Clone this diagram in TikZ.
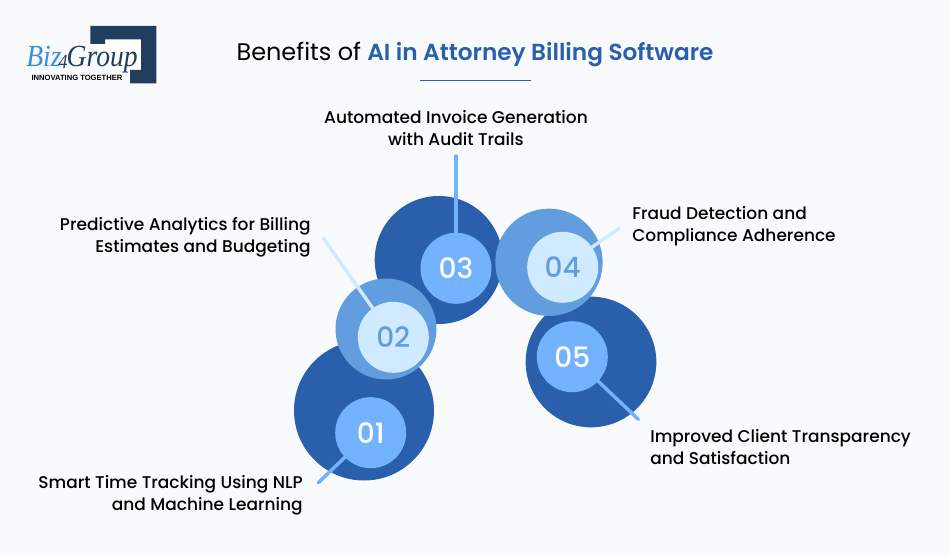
\documentclass[tikz,border=0pt]{standalone}
\usepackage{fontspec}
\setmainfont{Poppins}[UprightFont=* Medium,BoldFont=* SemiBold]
\newfontfamily\titlefont{Poppins}
\newfontfamily\logoserif[FakeStretch=0.9]{Liberation Serif}
\newfontfamily\logosans{Liberation Sans}
\usepackage{xcolor}
\usetikzlibrary{backgrounds}
\definecolor{bluedark}{HTML}{2A5FAB}
\definecolor{bluemid}{HTML}{629DDF}
\definecolor{bluelight}{HTML}{72B2FF}
\definecolor{bluepale}{HTML}{D0EAFF}
\definecolor{logonavy}{HTML}{213E5E}
\definecolor{logoblue}{HTML}{3A8FDC}
\definecolor{pagebg}{HTML}{F8FAFC}
\pgfdeclarelayer{page}
\pgfsetlayers{page,background,main}

\begin{document}
\begin{tikzpicture}[x=0.75pt,y=-0.75pt]
        \tikzstyle{big} = [draw=none,shape=circle,inner sep=0pt]
        \tikzstyle{small} = [draw=none,shape=circle,minimum size=53.25pt,inner sep=0pt,font=\fontsize{21}{21}\selectfont]
        \tikzstyle{leader} = [line width=2.6pt,line cap=round]
        \tikzstyle{label} = [font=\fontsize{12.75}{16.5}\selectfont,inner sep=0pt,text=black]
        %
        \useasboundingbox (0,0) rectangle (950,556);
        \begin{pgfonlayer}{page}
            \fill[pagebg] (0,0) rectangle (950,556);
        \end{pgfonlayer}
        % Logo
        \fill[white] (105,39.5) rectangle (141,70);
        \fill[logonavy] (90.3,26) -- (156.3,26) -- (156.3,83.5) -- (130,83.5) -- (130,70) -- (141,70) -- (141,39.5) -- (105,39.5) -- (105,44) -- (90.3,44) -- cycle;
        \node[inner sep=0pt,anchor=base west,font=\logoserif\itshape\fontsize{23}{23}\selectfont] (logoname) at (26,67) {\textcolor{logoblue}{Biz}\kern-2.2pt\raisebox{-1pt}{\textcolor{logonavy}{\fontsize{15}{15}\selectfont 4}}\kern-0.7pt\textcolor{logonavy}{Group}};
        \node[inner sep=0pt,font=\logosans\bfseries\fontsize{5.7}{6}\selectfont] (logotag) at (77,78) {INNOVATING TOGETHER};
        % Title
        \node[inner sep=0pt,anchor=base,font=\fontsize{18}{22}\selectfont] (title) at (475,61) {{\titlefont Benefits of} \textcolor{bluedark}{\fontsize{17.4}{22}\selectfont\textbf{AI in Attorney Billing Software}}};
        \coordinate (ruleleft) at (420,80.5);
        \coordinate (ruleright) at (531,80.5);
        \draw[bluedark,line width=1.2pt] (ruleleft) -- (ruleright);
        % Numbered discs
        \node[small,fill=bluelight,text=white] (disc1) at (370.7,432.7) {01};
        \node[small,fill=bluepale,text=bluemid] (disc2) at (393.3,337.3) {02};
        \node[small,fill=bluelight,text=white] (disc3) at (456,268.3) {03};
        \node[small,fill=bluepale,text=bluemid] (disc4) at (562.7,267.3) {04};
        \node[small,fill=bluelight,text=white] (disc5) at (572.3,356.7) {05};
        \begin{pgfonlayer}{background}
            % Large circles
            \node[big,fill=bluedark,minimum size=105pt] (back1) at (364,410.5) {};
            \node[big,fill=bluedark,minimum size=96pt] (back3) at (438.7,260) {};
            \node[big,fill=bluemid,minimum size=75.75pt] (back2) at (386,329) {};
            \node[big,fill=bluedark,minimum size=98pt] (back5) at (591,362) {};
            \node[big,fill=bluemid,minimum size=80.5pt] (back4) at (549,262.3) {};
        \end{pgfonlayer}
        % Leader lines
        \coordinate (end1) at (318.3,482.7);
        \coordinate (end2) at (323.3,238.3);
        \coordinate (end3) at (456,156);
        \coordinate (end4) at (619.3,228.3);
        \coordinate (end5) at (638.3,419.3);
        \draw[leader,bluelight] (disc1) -- (end1);
        \draw[leader,bluepale] (disc2) -- (end2);
        \draw[leader,bluelight] (disc3) -- (end3);
        \draw[leader,bluepale] (disc4) -- (end4);
        \draw[leader,bluelight] (disc5) -- (end5);
        % Labels
        \node[label,anchor=east,align=right] (text1) at (303,495) {Smart Time Tracking Using NLP\\and Machine Learning};
        \node[label,anchor=east,align=right] (text2) at (311,237) {Predictive Analytics for Billing\\Estimates and Budgeting};
        \node[label,align=center] (text3) at (456,128) {Automated Invoice Generation\\with Audit Trails};
        \node[label,anchor=west,align=left] (text4) at (632,226) {Fraud Detection and\\Compliance Adherence};
        \node[label,anchor=west,align=left] (text5) at (650,447) {Improved Client Transparency\\and Satisfaction};
\end{tikzpicture}
\end{document}
